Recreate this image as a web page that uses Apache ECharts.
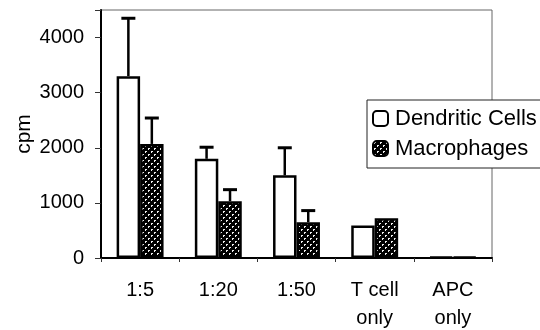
<!DOCTYPE html>
<html><head><meta charset="utf-8">
<script src="https://cdn.jsdelivr.net/npm/echarts@6/dist/echarts.min.js"></script>
<style>html,body{margin:0;padding:0;background:#fff}#c{width:540px;height:330px}</style>
</head><body><div id="c"></div>
<script>
var categories = ['1:5', '1:20', '1:50', 'T cell\nonly', 'APC\nonly'];
var dendritic = [3300, 1800, 1500, 590, 20];
var dendriticErr = [4350, 2010, 2000, null, null];
var macrophages = [2070, 1030, 650, 720, 20];
var macrophagesErr = [2540, 1240, 860, null, null];
var yTicks = [0, 1000, 2000, 3000, 4000];

function makePattern() {
  var c = document.createElement('canvas');
  c.width = 6; c.height = 6;
  var g = c.getContext('2d');
  g.fillStyle = '#000'; g.fillRect(0, 0, 6, 6);
  g.fillStyle = '#eee';
  g.fillRect(1, 1, 2, 1); g.fillRect(4, 4, 2, 1);
  g.fillRect(1, 2, 1, 1); g.fillRect(4, 5, 1, 1);
  return c;
}
var pat = makePattern();

var chart = echarts.init(document.getElementById('c'), null, {renderer: 'canvas'});
var font = 'Liberation Sans';

function errSeries(vals, idx) {
  var data = [];
  vals.forEach(function (v, i) { if (v != null) data.push([i, v, idx === 0 ? dendritic[i] : macrophages[i]]); });
  return {
    type: 'custom',
    z: 1,
    data: data,
    renderItem: function (params, api) {
      var i = api.value(0);
      var top = api.coord([i, api.value(1)]);
      var base = api.coord([i, api.value(2)]);
      var bw = api.size([1, 0])[0] * 0.3;
      var x = top[0] + (idx === 0 ? -bw / 2 : bw / 2);
      var cap = 7;
      return {
        type: 'group',
        children: [
          {type: 'line', shape: {x1: x, y1: base[1], x2: x, y2: top[1]}, style: {stroke: '#000', lineWidth: 2.5}},
          {type: 'line', shape: {x1: x - cap, y1: top[1], x2: x + cap, y2: top[1]}, style: {stroke: '#000', lineWidth: 3}}
        ]
      };
    }
  };
}

chart.setOption({
  animation: false,
  textStyle: {fontFamily: font},
  grid: {left: 101, right: 48, top: 10, bottom: 72, outerBoundsMode: 'none', containLabel: false,
         show: true, borderColor: '#666', borderWidth: 1, backgroundColor: 'transparent'},
  legend: {
    orient: 'vertical', left: 367, top: 100,
    data: [{name: 'Dendritic Cells'}, {name: 'Macrophages'}],
    itemWidth: 15, itemHeight: 15, itemGap: 7,
    padding: [7, 30, 8, 5],
    borderColor: '#222', borderWidth: 1, backgroundColor: '#fff',
    textStyle: {fontSize: 22, color: '#000', fontFamily: font, padding: [0, 0, 0, 2], lineHeight: 23},
    z: 10
  },
  xAxis: {
    type: 'category', data: categories,
    axisLine: {lineStyle: {color: '#000', width: 2}},
    axisTick: {show: true, length: 4, lineStyle: {color: '#333'}},
    axisLabel: {fontSize: 20, color: '#000', margin: 18, lineHeight: 28, fontFamily: font},
    splitLine: {show: false}
  },
  yAxis: {
    type: 'value', min: 0, max: 4500, interval: 1000,
    name: 'cpm', nameLocation: 'middle', nameGap: 66, nameMoveOverlap: false,
    nameTextStyle: {fontSize: 21, color: '#000', fontFamily: font},
    axisLine: {show: true, lineStyle: {color: '#000', width: 2}},
    axisTick: {show: true, length: 6, lineStyle: {color: '#333'}},
    axisLabel: {fontSize: 20, color: '#000', margin: 17, fontFamily: font,
      formatter: function (v) { return yTicks.indexOf(v) >= 0 ? String(v) : ''; }},
    splitLine: {show: false}
  },
  series: [
    {name: 'Dendritic Cells', type: 'bar', data: dendritic, barWidth: '30%', barGap: '0%', z: 2,
     itemStyle: {color: '#fff', borderColor: '#000', borderWidth: 2.5}},
    {name: 'Macrophages', type: 'bar', data: macrophages, barWidth: '30%', barGap: '0%', z: 2,
     itemStyle: {color: {image: pat, repeat: 'repeat'}, borderColor: '#000', borderWidth: 2.5}},
    errSeries(dendriticErr, 0),
    errSeries(macrophagesErr, 1)
  ]
});
</script></body></html>
